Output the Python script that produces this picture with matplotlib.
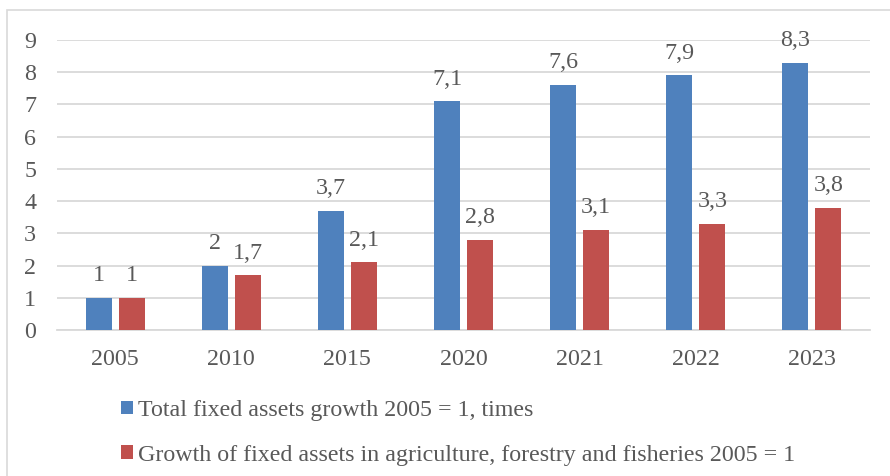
import matplotlib
matplotlib.use("Agg")
import matplotlib.pyplot as plt
from matplotlib.patches import Rectangle
import numpy as np

years = ["2005", "2010", "2015", "2020", "2021", "2022", "2023"]
total_growth = [1, 2, 3.7, 7.1, 7.6, 7.9, 8.3]
agri_growth = [1, 1.7, 2.1, 2.8, 3.1, 3.3, 3.8]
series_names = ["Total fixed assets growth 2005 = 1, times",
                "Growth of fixed assets in agriculture, forestry and fisheries 2005 = 1"]
yticks = list(range(0, 10))

plt.rcParams['font.family'] = ['Liberation Serif', 'DejaVu Serif']
TXT = '#595959'
BLUE = '#4F81BD'
RED = '#C0504D'
FS = 17.3

W, H = 890, 476
fig = plt.figure(figsize=(W/100, H/100), dpi=100)
ax = fig.add_axes([57/W, 1-330/H, (870-57)/W, (330-40)/H])

x = np.arange(len(years))
bw = 0.224
off = 0.142
b1 = ax.bar(x - off, total_growth, bw, color=BLUE, label=series_names[0], zorder=3)
b2 = ax.bar(x + off, agri_growth, bw, color=RED, label=series_names[1], zorder=3)

def fmt(v):
    return ('%g' % v).replace('.', ',')

for bars, vals in ((b1, total_growth), (b2, agri_growth)):
    for rect, v in zip(bars, vals):
        ax.annotate(fmt(v), (rect.get_x() + rect.get_width()/2, v),
                    xytext=(0, 12), textcoords='offset points',
                    ha='center', va='baseline', fontsize=FS, color=TXT)

ax.set_xlim(-0.5, len(years) - 0.5)
ax.set_ylim(0, 9)
ax.set_yticks(yticks)
ax.set_yticklabels([str(t) for t in yticks])
ax.set_xticks(x)
ax.set_xticklabels(years)
ax.tick_params(axis='both', length=0, labelsize=FS, labelcolor=TXT)
ax.tick_params(axis='y', pad=15)
ax.tick_params(axis='x', pad=14)
ax.yaxis.grid(True, color='#D9D9D9', linewidth=1.3, zorder=0)
ax.set_axisbelow(True)
for s in ['top', 'right', 'left']:
    ax.spines[s].set_visible(False)
ax.spines['bottom'].set_color('#D9D9D9')
ax.spines['bottom'].set_linewidth(1.3)

leg = fig.legend(handles=[b1, b2], labels=series_names, loc='upper left',
                 bbox_to_anchor=(121/W, 1-400/H), frameon=False, fontsize=FS,
                 handlelength=0.5, handleheight=0.5, handletextpad=0.2,
                 labelspacing=0.98, labelcolor=TXT, borderaxespad=0, borderpad=0)

fig.patches.append(Rectangle((7/W, -0.1), 1.2, 1 - 10/H + 0.1, transform=fig.transFigure,
                             fill=False, edgecolor='#D9D9D9', linewidth=1.2))

fig.savefig('out.png', dpi=100)
